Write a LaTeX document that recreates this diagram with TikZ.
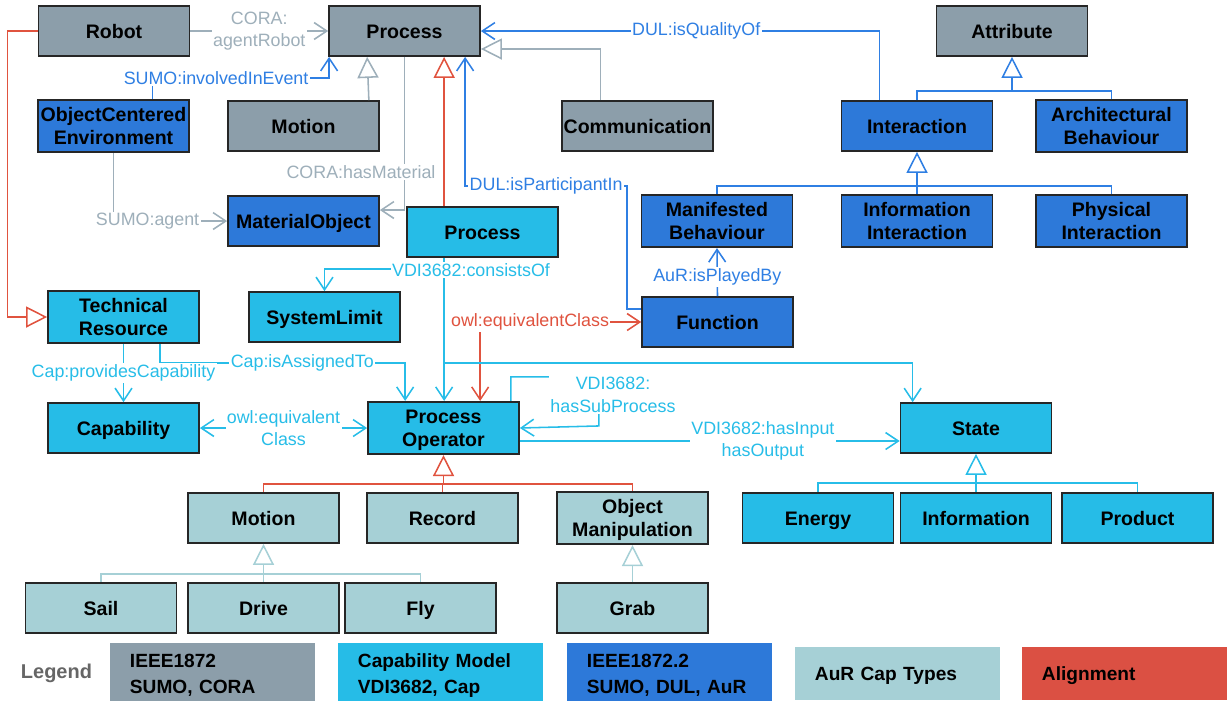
\documentclass[tikz,border=0pt]{standalone}
\usepackage{fontspec}
\setmainfont{Liberation Sans}
\usetikzlibrary{arrows.meta,calc}

\definecolor{ieeegray}{HTML}{8C9EAA}
\definecolor{capcyan}{HTML}{26BCE7}
\definecolor{aurblue}{HTML}{2D79D9}
\definecolor{typeteal}{HTML}{A6D0D6}
\definecolor{alignred}{HTML}{DB5043}
\definecolor{grayline}{HTML}{9EAFBA}
\definecolor{blueline}{HTML}{2F7FE3}
\definecolor{cyanline}{HTML}{27BDE8}
\definecolor{redline}{HTML}{E0533F}
\definecolor{legendgray}{HTML}{666666}

\newcommand{\clsfont}{\bfseries\fontsize{13.9}{17}\selectfont}
\newcommand{\relfont}{\fontsize{12.7}{16}\selectfont}
\newcommand{\keyfont}{\bfseries\fontsize{13.6}{17}\selectfont}
\newcommand{\clsstrut}{\rule[-0.3em]{0pt}{1.316em}}

\tikzset{
  cls/.style={draw=black!85, line width=1.2pt, minimum width=3.775cm, minimum height=1.25cm, inner sep=1pt, align=center, font=\clsfont, execute at begin node=\clsstrut, execute at end node=\clsstrut},
  ieee/.style={cls, fill=ieeegray},
  capm/.style={cls, fill=capcyan},
  aur/.style={cls, fill=aurblue},
  captype/.style={cls, fill=typeteal},
  legbox/.style={minimum width=5.125cm, minimum height=1.325cm, text width=4.125cm, align=left, font=\keyfont, execute at begin node=\clsstrut, execute at end node=\clsstrut},
  opn/.style={-{Straight Barb[length=9pt,width=12pt]}},
  bothopn/.style={{Straight Barb[length=9pt,width=12pt]}-{Straight Barb[length=9pt,width=12pt]}},
  isa/.style={-{Triangle[open,length=15pt,width=15pt]}},
  grayrel/.style={draw=grayline, line width=1.1pt},
  bluerel/.style={draw=blueline, line width=1.1pt},
  cyanrel/.style={draw=cyanline, line width=1.1pt},
  redrel/.style={draw=redline, line width=1.1pt},
  tealrel/.style={draw=typeteal, line width=1.1pt},
  lbl/.style={font=\relfont, fill=white, inner sep=1pt, align=center},
  glbl/.style={lbl, text=grayline},
  blbl/.style={lbl, text=blueline},
  clbl/.style={lbl, text=cyanline},
  rlbl/.style={lbl, text=redline}
}

\begin{document}
\begin{tikzpicture}[x=0.025cm,y=-0.025cm]
\useasboundingbox (0,0) rectangle (1227,700);

%Classes
\node[ieee] (robot) at (114,31) {Robot};
\node[ieee] (procA) at (404.5,31) {Process};
\node[ieee] (attr) at (1012,31) {Attribute};
\node[aur] (oce) at (113.5,126) {\clsstrut ObjectCentered\\Environment};
\node[ieee] (motionA) at (303.5,126) {Motion};
\node[ieee] (comm) at (637.5,126) {Communication};
\node[aur] (inter) at (917,126) {Interaction};
\node[aur] (archb) at (1111.5,126) {\clsstrut Architectural\\Behaviour};
\node[aur] (matobj) at (303.5,221) {MaterialObject};
\node[capm] (procB) at (482.5,232) {Process};
\node[aur] (manb) at (717,221) {\clsstrut Manifested\\Behaviour};
\node[aur] (infoi) at (917,221) {\clsstrut Information\\Interaction};
\node[aur] (physi) at (1111.5,221) {\clsstrut Physical\\Interaction};
\node[capm] (techres) at (123.5,317) {\clsstrut Technical\\Resource};
\node[capm] (syslim) at (324.5,317) {SystemLimit};
\node[aur] (func) at (717.5,322) {Function};
\node[capm] (capab) at (123.5,428) {Capability};
\node[capm] (procop) at (443.5,428) {\clsstrut Process\\Operator};
\node[capm] (state) at (976,428) {State};
\node[captype] (motionB) at (263.5,518) {Motion};
\node[captype] (record) at (442.5,518) {Record};
\node[captype] (objman) at (632.5,518) {\clsstrut Object\\Manipulation};
\node[capm] (energy) at (818,518) {Energy};
\node[capm] (info) at (976,518) {Information};
\node[capm] (product) at (1137.5,518) {Product};
\node[captype] (sail) at (101,608) {Sail};
\node[captype] (drive) at (263.5,608) {Drive};
\node[captype] (fly) at (420.5,608) {Fly};
\node[captype] (grab) at (632.5,608) {Grab};

%IEEE1872 relations
\draw[grayrel,opn] (robot) -- node[glbl] (lagent) {CORA:\\agentRobot} (procA);
\draw[grayrel,isa] ($(motionA.north east)+(-11,0)$) -- ($(procA.south west)+(39,0)$);
\draw[grayrel,isa] ($(comm.north)+(-37,0)$) |- ($(procA.east)+(0,18)$);
\draw[grayrel,opn] (procA.south) |- ($(matobj.east)+(0,-11)$);
\node[glbl] (lmat) at (361,172) {CORA:hasMaterial};
\draw[grayrel,opn] (oce.south) |- node[pos=0.65,glbl] (lsumo) {SUMO:agent} (matobj.west);

%IEEE1872.2 relations
\draw[bluerel,opn] ($(oce.north)+(39,0)$) |- node[pos=0.68,blbl] (linv) {SUMO:involvedInEvent} ($(procA.south west)+(1,21)$) -- ($(procA.south west)+(1,0)$);
\draw[bluerel,opn] ($(func.west)+(0,-13)$) -- ++(-14,0) -- ++(0,-123) -| node[pos=0.25,blbl] (lpart) {DUL:isParticipantIn} ($(procA.south west)+(137,0)$);
\draw[bluerel,opn] ($(inter.north west)+(39,0)$) |- node[pos=0.73,blbl] (lqual) {DUL:isQualityOf} (procA.east);
\draw[bluerel,opn] (func.north) -- node[pos=0.4,blbl] (lplay) {AuR:isPlayedBy} (manb.south);

% Attribute tree
\coordinate (attrj) at ($(attr.south)+(0,34)$);
\draw[bluerel] (inter.north) |- (attrj) -| (archb.north);
\draw[bluerel,isa] (attrj) -- (attr.south);

% Interaction tree
\coordinate (interj) at ($(inter.south)+(0,34)$);
\draw[bluerel] (manb.north) |- (interj) -| (physi.north);
\draw[bluerel] (infoi.north) -- (interj);
\draw[bluerel,isa] (interj) -- (inter.south);

%Alignment
\draw[redrel,isa] ($(procB.north west)+(38,0)$) -- ($(procA.south west)+(116,0)$);
\draw[redrel,isa] (robot.west) -- ++(-30,0) |- (techres.west);
\draw[redrel,bothopn] ($(procop.north west)+(113,0)$) |- node[pos=0.655,rlbl] (lequr) {owl:equivalentClass} (func.west);

%Capability model relations
\coordinate (cons) at ($(procB.south west)+(38,0)$);
\draw[cyanrel,opn] (cons) -- (cons |- procop.north);
\draw[cyanrel,opn] ($(cons)+(0,11)$) -| (syslim.north);
\draw[cyanrel,opn] ($(cons)+(0,105)$) -| ($(state.north west)+(13,0)$);
\node[clbl] (lcons) at (471,270) {VDI3682:consistsOf};
\draw[cyanrel,opn] ($(techres.south west)+(113,0)$) -- ++(0,19) -| node[pos=0.29,clbl] (lassign) {Cap:isAssignedTo} ($(procop.north west)+(38,0)$);
\draw[cyanrel,opn] (techres) -- node[clbl] (lprov) {Cap:providesCapability} (capab);
\draw[cyanrel,bothopn] (capab) -- node[clbl] (lequc) {owl:equivalent\\Class} (procop);
\draw[cyanrel,opn] ($(procop.north east)+(-9,0)$) |- ++(88,-24) -- ++(0,49) -- (procop.east);
\node[clbl] (lsub) at (613,395) {VDI3682:\\hasSubProcess};
\draw[cyanrel,opn] ($(procop.east)+(0,13)$) -- node[pos=0.64,clbl] (lio) {VDI3682:hasInput\\hasOutput} ($(state.west)+(0,13)$);

% State tree
\coordinate (statej) at ($(state.south)+(0,29)$);
\draw[cyanrel] (energy.north) |- (statej) -| (product.north);
\draw[cyanrel] (info.north) -- (statej);
\draw[cyanrel,isa] (statej) -- (state.south);

% Process Operator tree
\coordinate (opj) at ($(procop.south)+(0,29)$);
\draw[redrel] (motionB.north) |- (opj) -| (objman.north);
\draw[redrel] (record.north) -- (record.north |- opj);
\draw[redrel,isa] (opj) -- (procop.south);

% Motion tree
\coordinate (motj) at ($(motionB.south)+(0,30)$);
\draw[tealrel] (sail.north) |- (motj) -| (fly.north);
\draw[tealrel] (drive.north) -- (motj);
\draw[tealrel,isa] (motj) -- (motionB.south);
\draw[tealrel,isa] (grab) -- (objman);

%Legend
\node[font=\bfseries\fontsize{14.2}{16}\selectfont, text=legendgray, anchor=west] (legend) at (16,673) {Legend};
\node[legbox, fill=ieeegray] (keyieee) at (212.5,673.5) {IEEE1872\\SUMO, CORA};
\node[legbox, fill=capcyan] (keycap) at (440.5,673.5) {Capability Model\\VDI3682, Cap};
\node[legbox, fill=aurblue] (keyaur) at (669.5,673.5) {IEEE1872.2\\SUMO, DUL, AuR};
\node[legbox, fill=typeteal] (keytype) at (897.5,673.5) {AuR Cap Types};
\node[legbox, fill=alignred] (keyalign) at (1124.5,673.5) {Alignment};
\end{tikzpicture}
\end{document}
